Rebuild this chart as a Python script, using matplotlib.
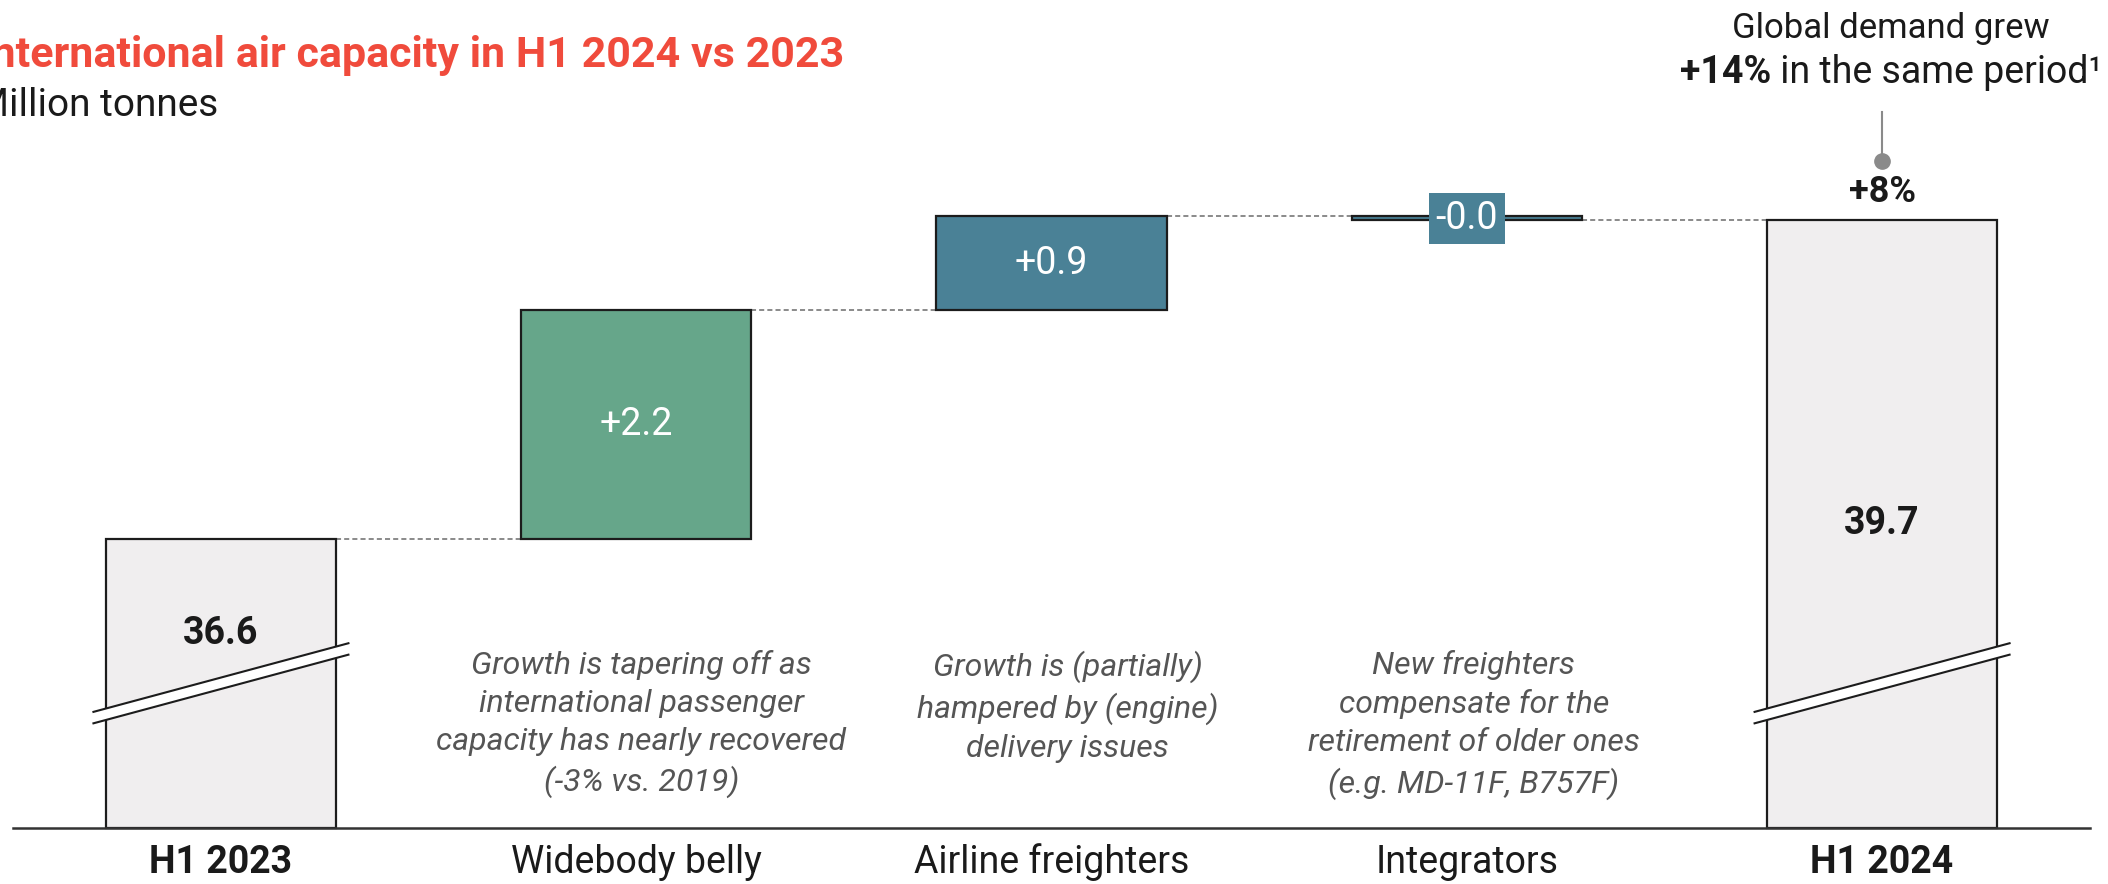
import matplotlib
matplotlib.use("Agg")
import matplotlib.pyplot as plt
from matplotlib.patches import Polygon
import numpy as np

plt.rcParams['font.family'] = ['Roboto', 'DejaVu Sans']

# ---------------- data ----------------
categories = ["H1 2023", "Widebody belly", "Airline freighters", "Integrators", "H1 2024"]
start_value = 36.6
delta_values = [2.2, 0.9, -0.04]
end_value = 39.66
total_labels = ["36.6", "39.7"]
growth_label = "+8%"
notes = [
    "Growth is tapering off as\ninternational passenger\ncapacity has nearly recovered\n(-3% vs. 2019)",
    "Growth is (partially)\nhampered by (engine)\ndelivery issues",
    "New freighters\ncompensate for the\nretirement of older ones\n(e.g. MD-11F, B757F)",
]
title = "International air capacity in H1 2024 vs 2023"
subtitle = "Million tonnes"
demand_line1 = "Global demand grew"
demand_bold = "+14%"
demand_rest = " in the same period\u00b9"

# ---------------- styles ----------------
W, H = 2108, 884
TOTAL_FC = "#F0EEEF"
EDGE = "#1c1c1c"
GREEN = "#66A68A"
TEAL = "#4A8196"
RED = "#F04B3C"
NOTE_C = "#555555"
BASE = 33.82          # truncated axis floor (broken bars)
BW = 0.554
NOTE_DX_PX = [5, 16, 7]

fig = plt.figure(figsize=(W / 100, H / 100), dpi=100)
ax = fig.add_axes([0, 0, 1, 1])
XL = (-0.532, 4.544)
ax.set_xlim(*XL)
ax.set_ylim(33.28, 41.78)
ax.axis("off")
px_per_x = W / (XL[1] - XL[0])

x = np.arange(len(categories))

# total bars
for xi, val in [(x[0], start_value), (x[-1], end_value)]:
    ax.bar(xi, val - BASE, bottom=BASE, width=BW, color=TOTAL_FC,
           edgecolor=EDGE, linewidth=1.6, zorder=2)

# delta bars
delta_colors = [GREEN, TEAL, TEAL]
cum = start_value
for i, d in enumerate(delta_values):
    bottom = cum if d >= 0 else cum + d
    ax.bar(x[i + 1], abs(d), bottom=bottom, width=BW, color=delta_colors[i],
           edgecolor=EDGE, linewidth=1.6, zorder=2)
    cum += d

# connectors (from top of each bar to next bar)
conn = [start_value, start_value + delta_values[0],
        start_value + delta_values[0] + delta_values[1], end_value]
for i in range(len(categories) - 1):
    ax.plot([x[i] + BW / 2, x[i + 1] - BW / 2], [conn[i], conn[i]], color="#8a8a8a",
            linewidth=1.4, linestyle=(0, (2.6, 1.6)), zorder=1)

# baseline
ax.plot([-0.501, 4.501], [BASE, BASE], color="#333333", linewidth=1.8, zorder=4)

# axis break marks on total bars
for xi in [x[0], x[-1]]:
    l, r = xi - 0.307, xi + 0.307
    yl, yr, g = BASE + 1.06, BASE + 1.72, 0.11
    ax.add_patch(Polygon([(l, yl - g / 2), (r, yr - g / 2), (r, yr + g / 2), (l, yl + g / 2)],
                         closed=True, facecolor="white", edgecolor="none", zorder=5))
    ax.plot([l, r], [yl - g / 2, yr - g / 2], color=EDGE, linewidth=1.5, zorder=6)
    ax.plot([l, r], [yl + g / 2, yr + g / 2], color=EDGE, linewidth=1.5, zorder=6)

# total labels
ax.text(x[0], start_value - 0.91, total_labels[0], ha="center", va="center",
        fontsize=27, fontweight="bold", color="#1a1a1a", zorder=7)
ax.text(x[-1], end_value - 2.91, total_labels[1], ha="center", va="center",
        fontsize=27, fontweight="bold", color="#1a1a1a", zorder=7)

# delta labels
cum = start_value
for i, d in enumerate(delta_values):
    mid = cum + d / 2
    lbl = f"{d:+.1f}"
    box = None
    if abs(d) < 0.1:
        box = dict(boxstyle="square,pad=0.18", facecolor=TEAL, edgecolor="none")
    ax.text(x[i + 1], mid, lbl, ha="center", va="center", fontsize=27,
            color="white", zorder=7, bbox=box)
    cum += d

# growth label + connector to demand note
ax.text(x[-1], end_value + 0.27, growth_label, ha="center", va="center",
        fontsize=26, fontweight="bold", color="#1a1a1a")
ax.plot([x[-1], x[-1]], [40.27, 40.70], color="#8a8a8a", linewidth=1.5)
ax.plot([x[-1]], [40.23], marker="o", markersize=11, color="#8a8a8a")

# demand note
note_cx = x[-1] + 9 / px_per_x
ax.text(note_cx, 41.51, demand_line1, ha="center", va="center", fontsize=25, color="#1a1a1a")
fig.canvas.draw()
rend = fig.canvas.get_renderer()
tb = ax.text(0, 41.08, demand_bold, ha="left", va="center", fontsize=27,
             fontweight="bold", color="#1a1a1a")
tr = ax.text(0, 41.08, demand_rest, ha="left", va="center", fontsize=27, color="#1a1a1a")
wb = tb.get_window_extent(rend).width
wr = tr.get_window_extent(rend).width
start_x = note_cx - (wb + wr) / 2 / px_per_x
tb.set_x(start_x)
tr.set_x(start_x + wb / px_per_x)

# notes
for i, note in enumerate(notes):
    ax.text(x[i + 1] + NOTE_DX_PX[i] / px_per_x, 35.53, note, ha="center", va="top",
            fontsize=23, style="italic", color=NOTE_C, linespacing=1.39)

# category labels
for i, c in enumerate(categories):
    bold = i in (0, len(categories) - 1)
    ax.text(x[i], 33.49, c, ha="center", va="center", fontsize=27,
            fontweight="bold" if bold else "normal", color="#1a1a1a")

# title / subtitle (left edge is cropped in the original)
fig.text(844 / W, 1 - 56 / H, title, ha="right", va="center", fontsize=31,
         fontweight="bold", color=RED)
fig.text(218 / W, 1 - 106 / H, subtitle, ha="right", va="center", fontsize=28,
         color="#1a1a1a")

fig.savefig("out.png", dpi=100)
